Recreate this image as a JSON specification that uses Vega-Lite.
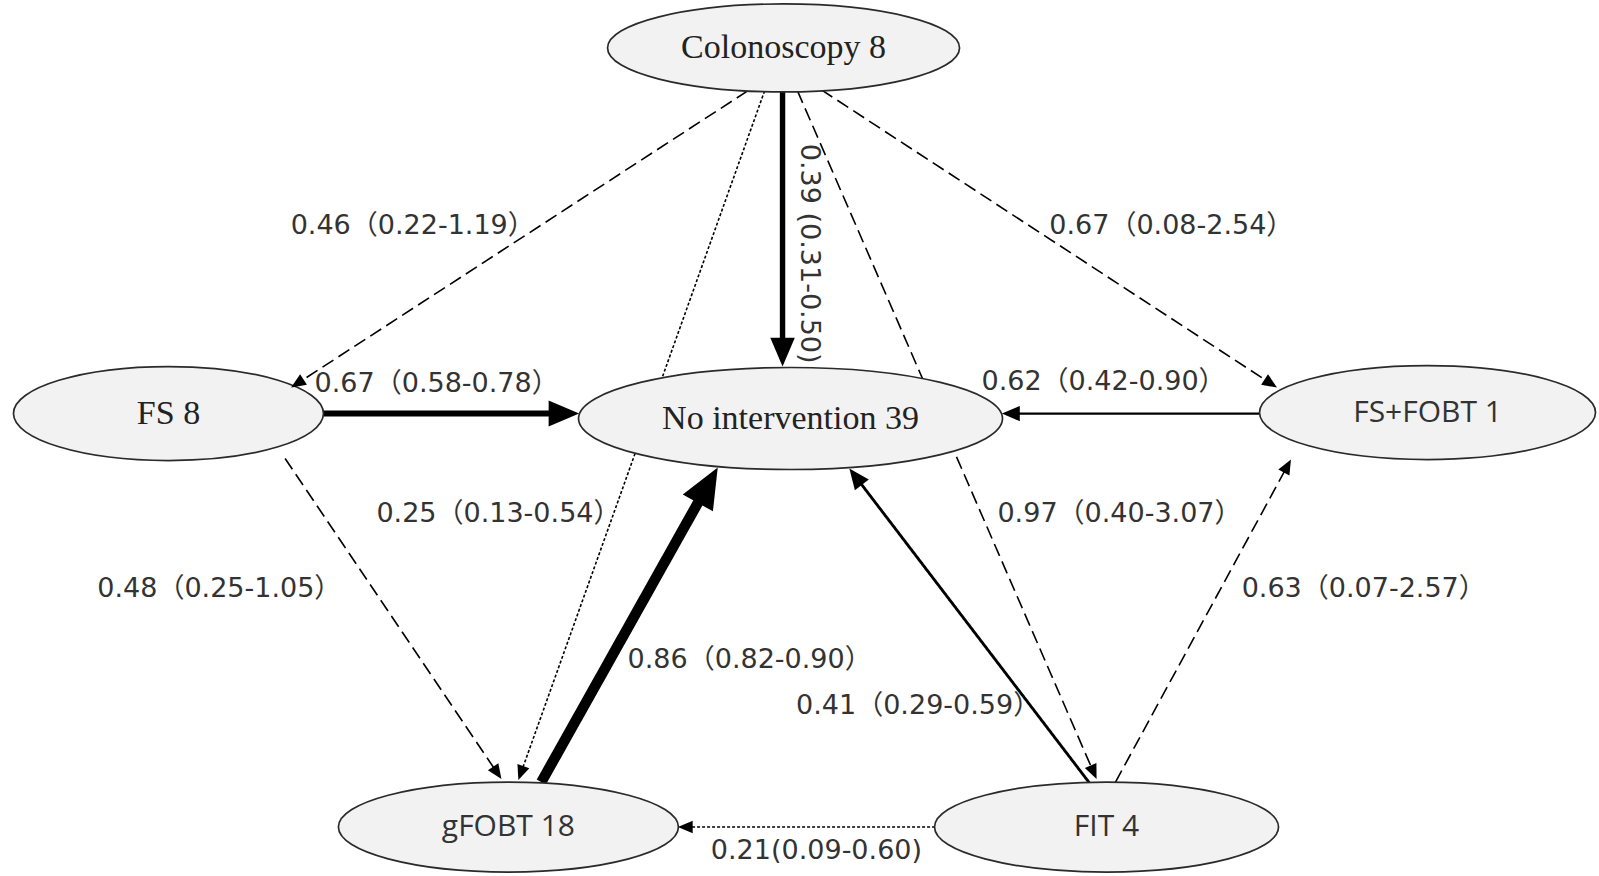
{
  "$schema": "https://vega.github.io/schema/vega-lite/v6.json",
  "width": 1599,
  "height": 876,
  "autosize": {"type": "fit", "contains": "padding"},
  "padding": 0,
  "background": "white",
  "config": {"view": {"stroke": null}},
  "datasets": {
    "nodes": [
      {"node": "Colonoscopy", "label": "Colonoscopy 8", "n": 8, "x": 786, "y": 48},
      {"node": "FS", "label": "FS 8", "n": 8, "x": 169, "y": 414},
      {"node": "No intervention", "label": "No intervention 39", "n": 39, "x": 793, "y": 419},
      {"node": "FS+FOBT", "label": "FS+FOBT 1", "n": 1, "x": 1432, "y": 413},
      {"node": "gFOBT", "label": "gFOBT 18", "n": 18, "x": 510, "y": 828},
      {"node": "FIT", "label": "FIT 4", "n": 4, "x": 1110, "y": 828}
    ],
    "edges": [
      {"from": "Colonoscopy", "to": "No intervention", "evidence": "direct", "trials": 6, "x1": 785, "y1": 92, "x2": 785, "y2": 367, "label": "0.39 (0.31-0.50)", "lx": 812, "ly": 254},
      {"from": "Colonoscopy", "to": "FS", "evidence": "indirect", "trials": 0, "x1": 750, "y1": 91, "x2": 292, "y2": 388, "label": "0.46（0.22-1.19）", "lx": 414, "ly": 226},
      {"from": "Colonoscopy", "to": "gFOBT", "evidence": "sparse", "trials": 0, "x1": 767, "y1": 91, "x2": 520, "y2": 781, "label": "0.25（0.13-0.54）", "lx": 500, "ly": 515},
      {"from": "Colonoscopy", "to": "FIT", "evidence": "indirect", "trials": 0, "x1": 800, "y1": 91, "x2": 1100, "y2": 780, "label": "0.97（0.40-3.07）", "lx": 1123, "ly": 515},
      {"from": "Colonoscopy", "to": "FS+FOBT", "evidence": "indirect", "trials": 0, "x1": 824, "y1": 90, "x2": 1281, "y2": 388, "label": "0.67（0.08-2.54）", "lx": 1175, "ly": 226},
      {"from": "FS", "to": "No intervention", "evidence": "direct", "trials": 7, "x1": 324, "y1": 414, "x2": 581, "y2": 414, "label": "0.67（0.58-0.78）", "lx": 438, "ly": 384},
      {"from": "FS+FOBT", "to": "No intervention", "evidence": "direct", "trials": 1, "x1": 1264, "y1": 414, "x2": 1005, "y2": 414, "label": "0.62（0.42-0.90）", "lx": 1107, "ly": 382},
      {"from": "FS", "to": "gFOBT", "evidence": "indirect", "trials": 0, "x1": 286, "y1": 459, "x2": 503, "y2": 780, "label": "0.48（0.25-1.05）", "lx": 220, "ly": 590},
      {"from": "gFOBT", "to": "No intervention", "evidence": "direct", "trials": 14, "x1": 543, "y1": 783, "x2": 720, "y2": 468, "label": "0.86（0.82-0.90）", "lx": 752, "ly": 661},
      {"from": "FIT", "to": "No intervention", "evidence": "direct", "trials": 2, "x1": 1093, "y1": 784, "x2": 852, "y2": 469, "label": "0.41（0.29-0.59）", "lx": 921, "ly": 707},
      {"from": "FIT", "to": "FS+FOBT", "evidence": "indirect", "trials": 0, "x1": 1119, "y1": 783, "x2": 1295, "y2": 460, "label": "0.63（0.07-2.57）", "lx": 1368, "ly": 590},
      {"from": "FIT", "to": "gFOBT", "evidence": "sparse", "trials": 0, "x1": 938, "y1": 828, "x2": 680, "y2": 828, "label": "0.21(0.09-0.60)", "lx": 819, "ly": 852}
    ]
  },
  "layer": [
    {
      "data": {"name": "edges"},
      "transform": [
        {"calculate": "sqrt(pow(datum.x2 - datum.x1, 2) + pow(datum.y2 - datum.y1, 2))", "as": "len"},
        {"calculate": "9 + 1.8 * datum.trials", "as": "back"},
        {"calculate": "datum.x2 - (datum.x2 - datum.x1) / datum.len * datum.back", "as": "xe"},
        {"calculate": "datum.y2 - (datum.y2 - datum.y1) / datum.len * datum.back", "as": "ye"}
      ],
      "mark": {"type": "rule", "color": "black", "strokeCap": "butt"},
      "encoding": {
        "x": {"field": "x1", "type": "quantitative", "scale": {"domain": [0, 1599], "nice": false, "zero": false}, "axis": null},
        "y": {"field": "y1", "type": "quantitative", "scale": {"domain": [0, 876], "reverse": true, "nice": false, "zero": false}, "axis": null},
        "x2": {"field": "xe"},
        "y2": {"field": "ye"},
        "strokeWidth": {"field": "trials", "type": "quantitative", "scale": {"domain": [0, 14], "range": [1.6, 10.5]}, "legend": null},
        "strokeDash": {"field": "evidence", "type": "nominal", "scale": {"domain": ["direct", "indirect", "sparse"], "range": [[1, 0], [13, 6], [3, 2]]}, "legend": null}
      }
    },
    {
      "data": {"name": "nodes"},
      "mark": {"type": "point", "filled": true, "size": 4, "fill": "#f2f2f2", "stroke": "#2a2a2a", "strokeWidth": 1.7, "opacity": 1},
      "encoding": {
        "x": {"field": "x", "type": "quantitative"},
        "y": {"field": "y", "type": "quantitative"},
        "shape": {
          "field": "node", "type": "nominal", "legend": null,
          "scale": {
            "domain": ["Colonoscopy", "FS", "No intervention", "FS+FOBT", "gFOBT", "FIT"],
            "range": [
              "M -176 0 C -176 -24.3 -97.2 -44 0 -44 C 97.2 -44 176 -24.3 176 0 C 176 24.3 97.2 44 0 44 C -97.2 44 -176 24.3 -176 0 Z",
              "M -155 0 C -155 -26 -85.6 -47 0 -47 C 85.6 -47 155 -26 155 0 C 155 26 85.6 47 0 47 C -85.6 47 -155 26 -155 0 Z",
              "M -212 0 C -212 -28.2 -117.1 -51 0 -51 C 117.1 -51 212 -28.2 212 0 C 212 28.2 117.1 51 0 51 C -117.1 51 -212 28.2 -212 0 Z",
              "M -168 0 C -168 -26 -92.8 -47 0 -47 C 92.8 -47 168 -26 168 0 C 168 26 92.8 47 0 47 C -92.8 47 -168 26 -168 0 Z",
              "M -170 0 C -170 -24.9 -93.9 -45 0 -45 C 93.9 -45 170 -24.9 170 0 C 170 24.9 93.9 45 0 45 C -93.9 45 -170 24.9 -170 0 Z",
              "M -172 0 C -172 -24.9 -95 -45 0 -45 C 95 -45 172 -24.9 172 0 C 172 24.9 95 45 0 45 C -95 45 -172 24.9 -172 0 Z"
            ]
          }
        }
      }
    },
    {
      "data": {"name": "nodes"},
      "transform": [{"filter": {"field": "node", "oneOf": ["Colonoscopy", "FS", "No intervention"]}}],
      "mark": {"type": "text", "font": "Liberation Serif", "fontSize": 34, "color": "#222222", "align": "center", "baseline": "middle"},
      "encoding": {
        "x": {"field": "x", "type": "quantitative"},
        "y": {"field": "y", "type": "quantitative"},
        "text": {"field": "label"}
      }
    },
    {
      "data": {"name": "nodes"},
      "transform": [{"filter": {"field": "node", "oneOf": ["FS+FOBT", "gFOBT", "FIT"]}}],
      "mark": {"type": "text", "font": "Open Sans", "fontSize": 30, "color": "#333333", "align": "center", "baseline": "middle"},
      "encoding": {
        "x": {"field": "x", "type": "quantitative"},
        "y": {"field": "y", "type": "quantitative"},
        "text": {"field": "label"}
      }
    },
    {
      "data": {"name": "edges"},
      "transform": [
        {"calculate": "atan2(datum.y2 - datum.y1, datum.x2 - datum.x1) * 180 / PI", "as": "heading"}
      ],
      "mark": {"type": "point", "filled": true, "color": "black", "opacity": 1, "shape": "M 0 0 L -2 -0.85 L -2 0.85 Z"},
      "encoding": {
        "x": {"field": "x2", "type": "quantitative"},
        "y": {"field": "y2", "type": "quantitative"},
        "angle": {"field": "heading", "type": "quantitative", "scale": null},
        "size": {"field": "trials", "type": "quantitative", "scale": {"domain": [0, 14], "range": [220, 1650]}, "legend": null}
      }
    },
    {
      "data": {"name": "edges"},
      "transform": [{"filter": "datum.x1 != datum.x2"}],
      "mark": {"type": "text", "font": "DejaVu Sans, Noto Sans CJK SC", "fontSize": 27, "color": "#333333", "align": "center", "baseline": "middle"},
      "encoding": {
        "x": {"field": "lx", "type": "quantitative"},
        "y": {"field": "ly", "type": "quantitative"},
        "text": {"field": "label"}
      }
    },
    {
      "data": {"name": "edges"},
      "transform": [{"filter": "datum.x1 == datum.x2"}],
      "mark": {"type": "text", "font": "DejaVu Sans, Noto Sans CJK SC", "fontSize": 27, "color": "#333333", "align": "center", "baseline": "middle", "angle": 90},
      "encoding": {
        "x": {"field": "lx", "type": "quantitative"},
        "y": {"field": "ly", "type": "quantitative"},
        "text": {"field": "label"}
      }
    }
  ]
}
